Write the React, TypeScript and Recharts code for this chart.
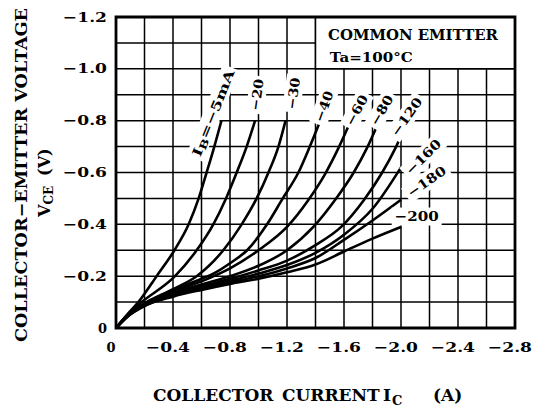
import React from "react";
import {
  LineChart,
  Line,
  XAxis,
  YAxis,
  CartesianGrid,
  ReferenceArea,
  ReferenceDot,
} from "recharts";

// collector current |IC| (A) and collector-emitter voltage |VCE| (V), per base current
const ib5I = [0, 0.1, 0.157, 0.285, 0.41, 0.51, 0.58, 0.636, 0.69, 0.74];
const ib5V = [0, 0.065, 0.1, 0.2, 0.3, 0.4, 0.5, 0.6, 0.7, 0.8];
const ib20I = [0, 0.1, 0.18, 0.414, 0.566, 0.683, 0.772, 0.847, 0.917, 0.976];
const ib20V = [0, 0.062, 0.1, 0.2, 0.3, 0.4, 0.5, 0.6, 0.7, 0.8];
const ib30I = [0, 0.1, 0.215, 0.4, 0.566, 0.753, 0.882, 0.987, 1.07, 1.14, 1.19];
const ib30V = [0, 0.06, 0.1, 0.15, 0.2, 0.3, 0.4, 0.5, 0.6, 0.7, 0.8];
const ib40I = [0, 0.1, 0.2, 0.4, 0.6, 0.7, 0.8, 0.92, 1.06, 1.17, 1.28, 1.36, 1.43];
const ib40V = [0, 0.058, 0.094, 0.145, 0.19, 0.215, 0.25, 0.3, 0.4, 0.5, 0.6, 0.7, 0.795];
const ib60I = [0, 0.1, 0.2, 0.4, 0.6, 0.8, 1.0, 1.2, 1.35, 1.47, 1.56, 1.64];
const ib60V = [0, 0.057, 0.092, 0.14, 0.18, 0.23, 0.3, 0.39, 0.494, 0.597, 0.693, 0.79];
const ib80I = [0, 0.1, 0.2, 0.4, 0.6, 0.8, 1.0, 1.2, 1.385, 1.537, 1.665, 1.76, 1.84];
const ib80V = [0, 0.056, 0.09, 0.135, 0.168, 0.2, 0.24, 0.3, 0.39, 0.494, 0.597, 0.693, 0.79];
const ib120I = [0, 0.1, 0.2, 0.4, 0.6, 0.8, 1.0, 1.2, 1.4, 1.58, 1.74, 1.865, 1.96, 2.0];
const ib120V = [0, 0.055, 0.088, 0.13, 0.16, 0.19, 0.222, 0.26, 0.32, 0.39, 0.494, 0.597, 0.693, 0.74];
const ibHighI = [0, 0.1, 0.2, 0.4, 0.6, 0.8, 1.0, 1.2, 1.4, 1.6, 1.8, 2.0];
const ib160V = [0, 0.054, 0.087, 0.127, 0.155, 0.182, 0.21, 0.243, 0.29, 0.36, 0.46, 0.62];
const ib180V = [0, 0.053, 0.086, 0.124, 0.151, 0.176, 0.2, 0.23, 0.27, 0.34, 0.415, 0.495];
const ib200V = [0, 0.052, 0.085, 0.121, 0.147, 0.17, 0.19, 0.215, 0.245, 0.295, 0.345, 0.39];

const xTicks = [0, -0.2, -0.4, -0.6, -0.8, -1.0, -1.2, -1.4, -1.6, -1.8, -2.0, -2.2, -2.4, -2.6, -2.8];
const yTicks = [0, -0.1, -0.2, -0.3, -0.4, -0.5, -0.6, -0.7, -0.8, -0.9, -1.0, -1.1, -1.2];

const toSeries = (is: number[], vs: number[]) =>
  is.map((i, k) => ({ i: -i, v: -vs[k] }));

const curves = [
  toSeries(ib5I, ib5V),
  toSeries(ib20I, ib20V),
  toSeries(ib30I, ib30V),
  toSeries(ib40I, ib40V),
  toSeries(ib60I, ib60V),
  toSeries(ib80I, ib80V),
  toSeries(ib120I, ib120V),
  toSeries(ibHighI, ib160V),
  toSeries(ibHighI, ib180V),
  toSeries(ibHighI, ib200V),
];

// curve tags: text, anchor (A, V), rotation
const tags = [
  { t: "=\u22125mA", i: 0.68, v: 0.83, a: -68, w: 92, sub: true },
  { t: "\u221220", i: 0.99, v: 0.9, a: -82, w: 32 },
  { t: "\u221230", i: 1.245, v: 0.905, a: -82, w: 32 },
  { t: "\u221240", i: 1.46, v: 0.855, a: -70, w: 32 },
  { t: "\u221260", i: 1.69, v: 0.84, a: -62, w: 33 },
  { t: "\u221280", i: 1.865, v: 0.84, a: -60, w: 33 },
  { t: "\u2212120", i: 2.04, v: 0.815, a: -55, w: 44 },
  { t: "\u2212160", i: 2.157, v: 0.66, a: -45, w: 44 },
  { t: "\u2212180", i: 2.18, v: 0.565, a: -35, w: 44 },
  { t: "\u2212200", i: 2.11, v: 0.43, a: 0, w: 44 },
];

const FONT = "'DejaVu Serif', 'Liberation Serif', serif";

const fmt = (v: number) => (v === 0 ? "0" : "\u2212" + Math.abs(v).toFixed(1));

const YTick = ({ x, y, payload }: any) => {
  const v = payload.value;
  if (Math.round(Math.abs(v) * 10) % 2 !== 0) return <g />;
  const s = fmt(v);
  return (
    <text
      x={x}
      y={y}
      textAnchor="end"
      dominantBaseline="central"
      fontFamily={FONT}
      fontWeight="bold"
      fontSize={13}
      textLength={s.length > 1 ? 44 : 9}
      lengthAdjust="spacingAndGlyphs"
      fill="#000"
    >
      {s}
    </text>
  );
};

const XTick = ({ x, y, payload }: any) => {
  const v = payload.value;
  if (Math.round(Math.abs(v) * 10) % 4 !== 0) return <g />;
  const s = fmt(v);
  return (
    <text
      x={x - 5}
      y={y}
      dy="0.71em"
      textAnchor="middle"
      fontFamily={FONT}
      fontWeight="bold"
      fontSize={13}
      textLength={s.length > 1 ? 44 : 9}
      lengthAdjust="spacingAndGlyphs"
      fill="#000"
    >
      {s}
    </text>
  );
};

const Tag = ({ cx, cy, tag }: any) => (
  <g transform={`translate(${cx},${cy}) rotate(${tag.a})`}>
    <rect x={-tag.w / 2 - 3} y={-9} width={tag.w + 6} height={18} fill="#fff" />
    <text
      x={0}
      y={0}
      textAnchor="middle"
      dominantBaseline="central"
      fontFamily={FONT}
      fontWeight="bold"
      fontSize={13}
      textLength={tag.w}
      lengthAdjust="spacingAndGlyphs"
      fill="#000"
    >
      {tag.sub ? (
        <>
          <tspan>I</tspan>
          <tspan fontSize={10} dy={3}>B</tspan>
          <tspan dy={-3}>{tag.t}</tspan>
        </>
      ) : (
        tag.t
      )}
    </text>
  </g>
);

const BoxText = ({ cx, cy, text, size, len }: any) => (
  <text
    x={cx}
    y={cy}
    dominantBaseline="central"
    fontFamily={FONT}
    fontWeight="bold"
    fontSize={size}
    textLength={len}
    lengthAdjust="spacingAndGlyphs"
    fill="#000"
  >
    {text}
  </text>
);

export default function App() {
  return (
    <div style={{ position: "relative", width: 533, height: 410, background: "#fff" }}>
      <style>{"body{margin:0}"}</style>
      <LineChart
        width={533}
        height={410}
        margin={{ top: 17, right: 18, bottom: 0, left: 0 }}
      >
        <CartesianGrid stroke="#000" strokeWidth={1.5} strokeOpacity={1} />
        <XAxis
          type="number"
          dataKey="i"
          domain={[-2.8, 0]}
          reversed
          ticks={xTicks}
          interval={0}
          height={82}
          tickSize={0}
          tickMargin={15}
          axisLine={false}
          tickLine={false}
          tick={<XTick />}
          allowDataOverflow
        />
        <YAxis
          type="number"
          domain={[-1.2, 0]}
          reversed
          ticks={yTicks}
          interval={0}
          width={116}
          tickSize={0}
          tickMargin={9}
          axisLine={false}
          tickLine={false}
          tick={<YTick />}
          allowDataOverflow
        />
        <ReferenceArea
          x1={-1.4}
          x2={-2.8}
          y1={-1.0}
          y2={-1.2}
          fill="#fff"
          fillOpacity={1}
          stroke="#000"
          strokeWidth={1.5}
        />
        {curves.map((d, k) => (
          <Line
            key={k}
            data={d}
            dataKey="v"
            type="monotone"
            stroke="#000"
            strokeWidth={2.6}
            dot={false}
            isAnimationActive={false}
          />
        ))}
        {tags.map((tag, k) => (
          <ReferenceDot
            key={"t" + k}
            x={-tag.i}
            y={-tag.v}
            r={1}
            shape={(p: any) => <Tag cx={p.cx} cy={p.cy} tag={tag} />}
          />
        ))}
        <ReferenceDot
          x={-1.488}
          y={-1.13}
          r={1}
          shape={(p: any) => (
            <BoxText cx={p.cx} cy={p.cy} text="COMMON EMITTER" size={15} len={170} />
          )}
        />
        <ReferenceDot
          x={-1.5}
          y={-1.045}
          r={1}
          shape={(p: any) => (
            <BoxText cx={p.cx} cy={p.cy} text={"Ta=100\u00b0C"} size={13} len={83} />
          )}
        />
        <ReferenceArea
          x1={0}
          x2={-2.8}
          y1={0}
          y2={-1.2}
          fill="none"
          stroke="#000"
          strokeWidth={2.8}
        />
      </LineChart>
      <svg
        width={533}
        height={410}
        style={{ position: "absolute", left: 0, top: 0, pointerEvents: "none" }}
      >
        <text
          transform="translate(21,175) rotate(-90)"
          textAnchor="middle"
          dominantBaseline="central"
          fontFamily={FONT}
          fontWeight="bold"
          fontSize={16}
          textLength={334}
          lengthAdjust="spacingAndGlyphs"
        >
          {"COLLECTOR\u2212EMITTER  VOLTAGE"}
        </text>
        <text
          transform="translate(44,217) rotate(-90)"
          dominantBaseline="central"
          fontFamily={FONT}
          fontWeight="bold"
          fontSize={16}
        >
          <tspan>V</tspan>
          <tspan fontSize={12} dy={5}>CE</tspan>
          <tspan dy={-5} dx={10}>(V)</tspan>
        </text>
        <g fontFamily={FONT} fontWeight="bold" fontSize={17}>
          <text x={153} y={401}>COLLECTOR</text>
          <text x={282} y={401}>CURRENT</text>
          <text x={383} y={401}>I</text>
          <text x={392} y={405} fontSize={13}>C</text>
          <text x={433} y={401}>(A)</text>
        </g>
      </svg>
    </div>
  );
}
